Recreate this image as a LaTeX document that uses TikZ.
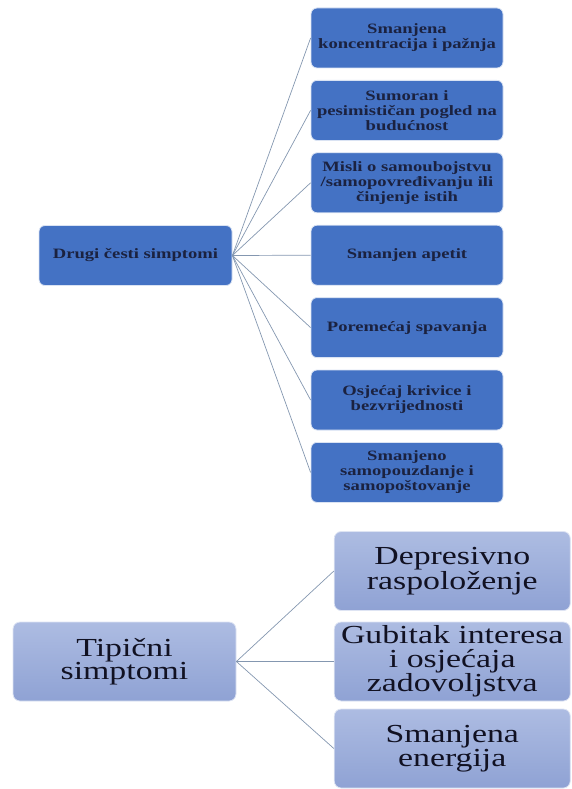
\documentclass[tikz,border=0pt]{standalone}
\usepackage{fontspec}
\setmainfont{Liberation Serif}[FakeStretch=1.3]
\usetikzlibrary{positioning}

\definecolor{boxblue}{HTML}{4472C4}
\definecolor{linkgray}{HTML}{8497B0}
\definecolor{navytext}{HTML}{1B2240}
\definecolor{softtop}{HTML}{ADBCE2}
\definecolor{softbot}{HTML}{8FA2D4}
\definecolor{inktext}{HTML}{111122}

\begin{document}
\begin{tikzpicture}[x=1pt,y=-1pt,
  other/.style={draw=white!80!boxblue, line width=0.8pt, fill=boxblue, rounded corners=6pt,
    minimum width=192pt, minimum height=60pt, inner sep=2pt, align=center, text=navytext,
    font=\fontsize{14.3}{15}\selectfont\bfseries},
  typical/.style={draw=white!60!softtop, line width=0.8pt, top color=softtop, bottom color=softbot,
    rounded corners=7pt, minimum height=79pt, inner sep=2pt, align=center, text=inktext,
    font=\fontsize{26}{23.5}\selectfont},
  link/.style={draw=linkgray, line width=0.7pt}]

  \useasboundingbox (0,0) rectangle (571,789);

  % other common symptoms
  \node[other, minimum width=193pt] (drugi) at (135.5,255.5) {Drugi česti simptomi};
  \foreach \t [count=\i] in {{Smanjena\\koncentracija i pažnja},
      {Sumoran i\\pesimističan pogled na\\budućnost},
      {Misli o samoubojstvu\\/samopovređivanju ili\\činjenje istih},
      {Smanjen apetit}, {Poremećaj spavanja},
      {Osjećaj krivice i\\bezvrijednosti},
      {Smanjeno\\samopouzdanje i\\samopoštovanje}} {
    \node[other] (o\i) at (407,{38+72.4*(\i-1)}) {\t};
    \draw[link] (drugi.east) -- (o\i.west);
  }

  % typical symptoms
  \node[typical, minimum width=223pt] (tip) at (124.5,661.5) {Tipični\\simptomi};
  \node[typical, minimum width=236pt] (dep) at (452.25,571) {Depresivno\\raspoloženje};
  \node[typical, minimum width=236pt] (gub) at (452.25,661.5) {Gubitak interesa\\i osjećaja\\zadovoljstva};
  \node[typical, minimum width=236pt] (ene) at (452.25,748.5) {Smanjena\\energija};

  \foreach \n in {dep,gub,ene}
    \draw[link] (tip.east) -- (\n.west);
\end{tikzpicture}
\end{document}
